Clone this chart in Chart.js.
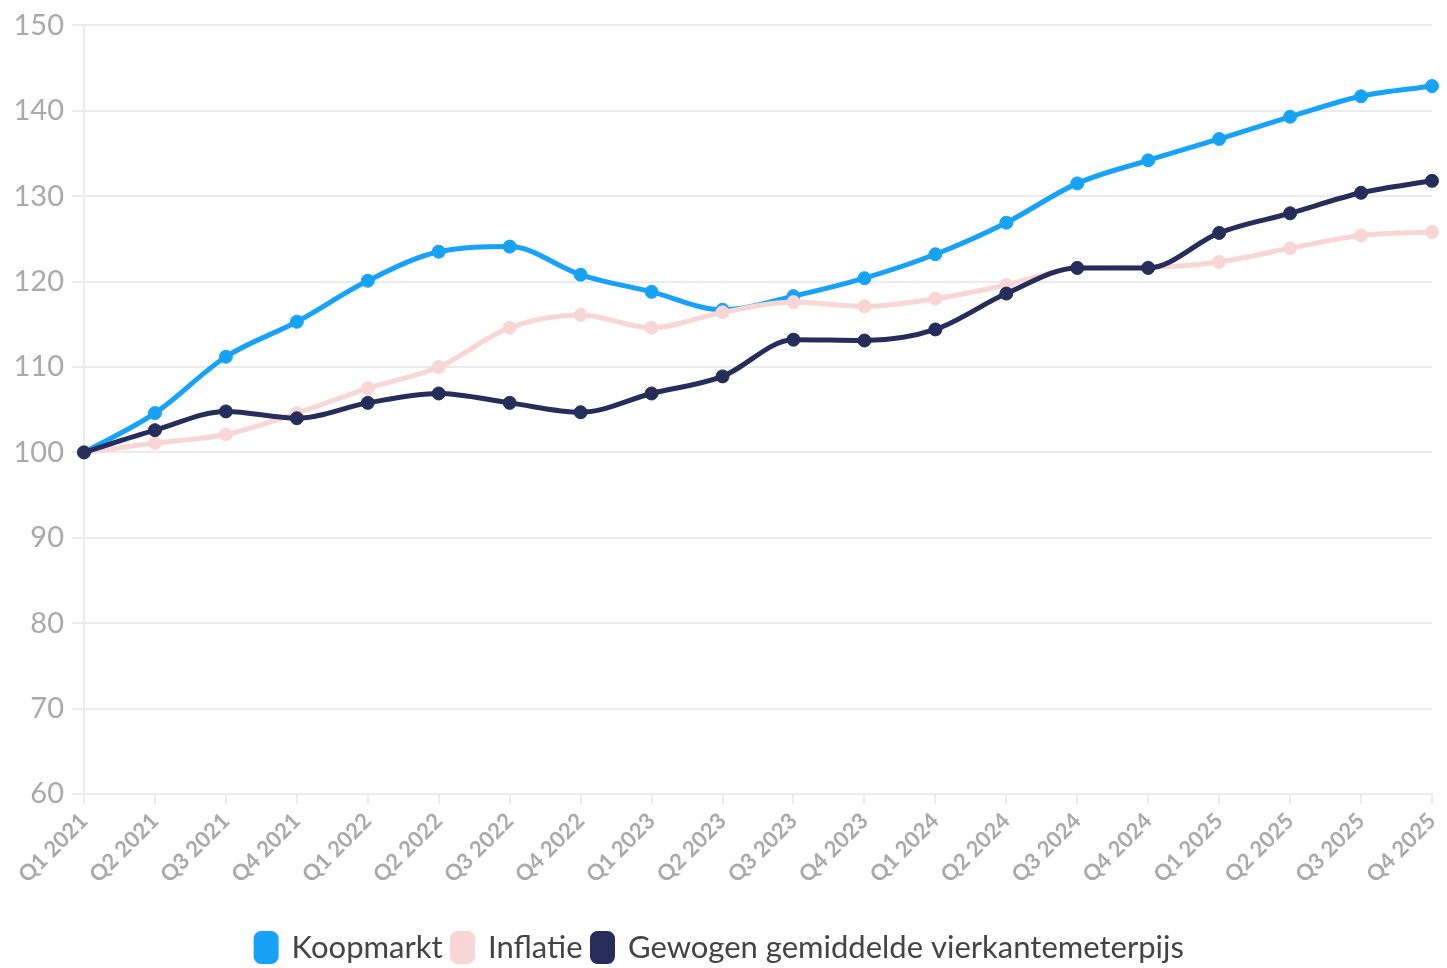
<!DOCTYPE html>
<html>
<head>
<meta charset="utf-8">
<script src="https://cdn.jsdelivr.net/npm/chart.js@4/dist/chart.umd.min.js"></script>
<style>
html,body{margin:0;padding:0;background:#fff;}
#wrap{width:1447px;height:968px;position:relative;}
</style>
</head>
<body>
<div id="wrap"><canvas id="c" width="1447" height="968"></canvas></div>
<script>
const categories = ["Q1 2021","Q2 2021","Q3 2021","Q4 2021","Q1 2022","Q2 2022","Q3 2022","Q4 2022","Q1 2023","Q2 2023","Q3 2023","Q4 2023","Q1 2024","Q2 2024","Q3 2024","Q4 2024","Q1 2025","Q2 2025","Q3 2025","Q4 2025"];
const koopmarkt = [100,104.6,111.2,115.3,120.1,123.5,124.1,120.8,118.8,116.7,118.3,120.4,123.2,126.9,131.5,134.2,136.7,139.3,141.7,142.9];
const inflatie = [100,101.1,102.1,104.6,107.5,110.0,114.6,116.1,114.6,116.4,117.6,117.1,118.0,119.6,121.6,121.7,122.3,123.9,125.4,125.8];
const gewogen = [100,102.6,104.8,104.0,105.8,106.9,105.8,104.7,106.9,108.9,113.2,113.1,114.4,118.6,121.6,121.6,125.7,128.0,130.4,131.8];
const yTicks = [60,70,80,90,100,110,120,130,140,150];

const FONT = "Lato, 'Liberation Sans', sans-serif";
function ds(label, data, color, order){
  return {label, data, borderColor:color, backgroundColor:color, pointBackgroundColor:color, pointBorderColor:color,
    borderWidth:5, pointRadius:6.5, pointBorderWidth:1, pointHoverRadius:6.5, cubicInterpolationMode:'monotone', order};
}
new Chart(document.getElementById('c'), {
  type:'line',
  data:{labels:categories, datasets:[
    ds('Koopmarkt', koopmarkt, '#16a3f7', 2),
    ds('Inflatie', inflatie, '#f9d6d6', 1),
    ds('Gewogen gemiddelde vierkantemeterpijs', gewogen, '#262d5b', 0)
  ]},
  options:{
    responsive:false, animation:false,
    layout:{padding:{top:23,right:15,left:8,bottom:-5}},
    plugins:{
      tooltip:{enabled:false},
      legend:{position:'bottom', labels:{sort:(a,b)=>a.datasetIndex-b.datasetIndex, font:{family:FONT,size:31}, color:'#444', boxWidth:20, boxHeight:28, useBorderRadius:true, borderRadius:5, padding:10}}
    },
    scales:{
      y:{min:60,max:150,
        afterBuildTicks:s=>{s.ticks=yTicks.map(v=>({value:v}));},
        afterFit:s=>{s.width=76;},
        ticks:{font:{family:FONT,size:29},color:'#a9a9a9',padding:8},
        grid:{color:'#ebebeb',lineWidth:2,tickLength:12},
        border:{color:'#ebebeb',width:2}
      },
      x:{
        afterFit:s=>{s.height=128; s.paddingRight=0; s.paddingLeft=0;},
        ticks:{font:{family:FONT,size:22,weight:'bold'},color:'#a9a9a9',maxRotation:45,minRotation:45,autoSkip:false,padding:4},
        grid:{drawOnChartArea:false,color:'#ebebeb',lineWidth:2,tickLength:10},
        border:{color:'#ebebeb',width:2}
      }
    }
  }
});
</script>
</body>
</html>
